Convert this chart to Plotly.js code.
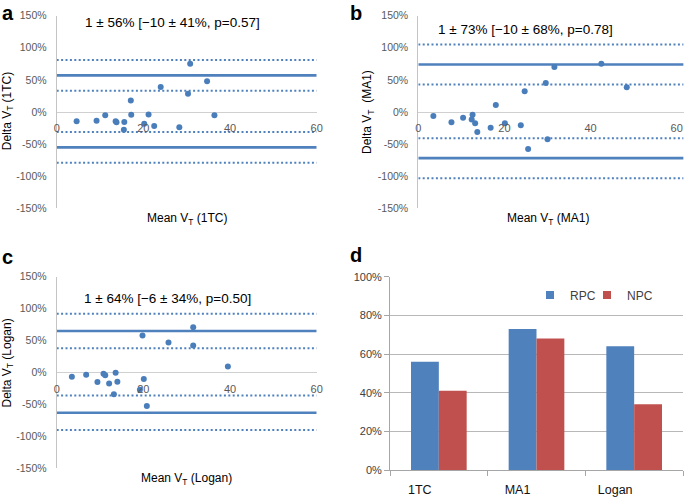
<!DOCTYPE html>
<html>
<head>
<meta charset="utf-8">
<script src="https://cdn.plot.ly/plotly-3.0.1.min.js"></script>
<style>html,body{margin:0;padding:0;background:#fff;}#chart{width:685px;height:497px;}</style>
</head>
<body>
<div id="chart"></div>
<script>
// ---- data ----
const yTickVals = [-150, -100, -50, 0, 50, 100, 150];
const yTickText = ['-150%', '-100%', '-50%', '0%', '50%', '100%', '150%'];
const xTickVals = [0, 20, 40, 60];

// panel a (1TC)
const aMean = [4.6, 9.2, 11.2, 13.6, 13.8, 15.6, 15.5, 17.1, 17.2, 20.2, 21.2, 22.5, 24.0, 28.3, 30.3, 30.8, 34.7, 36.4];
const aDelta = [-14.5, -13.5, -5.2, -14.5, -16, -15.6, -27.5, 18, -4.3, -18.2, -4, -22, 39, -23.9, 28.5, 75.2, 48, -5.2];
const aLoA = [57, -55];
const aCI = [81, 33, -31, -79];
const aStat = '1 ± 56% [−10 ± 41%, p=0.57]';

// panel b (MA1)
const bMean = [3.5, 7.7, 10.4, 12.4, 12.6, 13.2, 13.7, 16.8, 18.0, 20.1, 23.8, 24.7, 25.5, 29.6, 30.0, 31.6, 42.5, 48.4];
const bDelta = [-6.2, -16, -9, -11.6, -4.1, -17.6, -31, -24.6, 11, -17.6, -20.5, 32.5, -57.6, 45.1, -42.6, 70, 75.3, 38.4];
const bLoA = [74, -72];
const bCI = [105, 43, -41, -103];
const bStat = '1 ± 73% [−10 ± 68%, p=0.78]';

// panel c (Logan)
const cMean = [3.5, 6.8, 9.4, 10.8, 11.2, 12.1, 13.2, 13.6, 14.0, 19.2, 19.8, 20.1, 20.8, 25.8, 31.5, 31.5, 39.5];
const cDelta = [-6.8, -3.7, -14.7, -2.1, -4.4, -17.4, -34, -0.5, -14.5, -27, 58, -10.3, -52.6, 46.8, 71, 42.1, 9.5];
const cLoA = [65, -63];
const cCI = [92, 38, -36, -90];
const cStat = '1 ± 64% [−6 ± 34%, p=0.50]';

// panel d
const models = ['1TC', 'MA1', 'Logan'];
const rpc = [56, 73, 64];
const npc = [41, 68, 34];
const dTickVals = [0, 20, 40, 60, 80, 100];
const dTickText = ['0%', '20%', '40%', '60%', '80%', '100%'];

// ---- helpers ----
const W = 685, H = 497;
const px = v => v / W;
const py = v => 1 - v / H;
const BLUE = '#4F81BD', RED = '#C0504D';
const FONT = 'Liberation Sans, Arial, sans-serif';

const traces = [];
function panel(xa, ya, mean, delta, loa, ci, xEnd) {
  loa.forEach(v => traces.push({
    type: 'scatter', mode: 'lines', x: [0, xEnd], y: [v, v], xaxis: xa, yaxis: ya,
    line: {color: BLUE, width: 2.7}, showlegend: false, hoverinfo: 'skip'
  }));
  ci.forEach(v => traces.push({
    type: 'scatter', mode: 'lines', x: [0, xEnd], y: [v, v], xaxis: xa, yaxis: ya,
    line: {color: BLUE, width: 2, dash: '2px,2.4px'}, showlegend: false, hoverinfo: 'skip'
  }));
  traces.push({
    type: 'scatter', mode: 'markers', x: mean, y: delta, xaxis: xa, yaxis: ya,
    marker: {color: '#4A7EBB', size: 6}, showlegend: false
  });
}
panel('x', 'y', aMean, aDelta, aLoA, aCI, 60);
panel('x2', 'y2', bMean, bDelta, bLoA, bCI, 61.6);
panel('x3', 'y3', cMean, cDelta, cLoA, cCI, 60);

traces.push({type: 'bar', name: 'RPC', x: models, y: rpc, xaxis: 'x4', yaxis: 'y4',
  marker: {color: BLUE}, showlegend: false});
traces.push({type: 'bar', name: 'NPC', x: models, y: npc, xaxis: 'x4', yaxis: 'y4',
  marker: {color: RED}, showlegend: false});
// legend entries (one legend per entry so spacing can match)
traces.push({type: 'scatter', mode: 'markers', name: 'RPC', x: [null], y: [null], xaxis: 'x4', yaxis: 'y4',
  marker: {color: BLUE, symbol: 'square', size: 8}, legend: 'legend'});
traces.push({type: 'scatter', mode: 'markers', name: 'NPC', x: [null], y: [null], xaxis: 'x4', yaxis: 'y4',
  marker: {color: RED, symbol: 'square', size: 8}, legend: 'legend2'});

function yAx(dom, anchor) {
  return {
    domain: dom, anchor: anchor, range: [-150, 150], tickvals: yTickVals, ticktext: yTickText,
    showgrid: false, showline: true, linecolor: '#c4c4c4', linewidth: 1,
    zeroline: true, zerolinecolor: '#d0d0d0', zerolinewidth: 1,
    ticks: 'outside', ticklen: 7, tickcolor: 'rgba(0,0,0,0)',
    tickfont: {family: FONT, size: 10.5, color: '#595959'}, fixedrange: true
  };
}
function xAx(dom, ydom, range) {
  return {
    domain: dom, anchor: 'free', position: (ydom[0] + ydom[1]) / 2, range: range,
    tickvals: xTickVals, showgrid: false, showline: false, zeroline: false,
    ticks: 'outside', ticklen: 6, tickcolor: 'rgba(0,0,0,0)',
    tickfont: {family: FONT, size: 11, color: '#595959'}, fixedrange: true
  };
}

const yTop = [py(208.3), py(15.7)];
const yBot = [py(468.3), py(276.7)];
const xLeft = [px(56.7), px(316.7)];
const xRightB = [px(418.3), px(683.6)];

const ann = [];
function txt(x, y, text, size, opts) {
  ann.push(Object.assign({xref: 'paper', yref: 'paper', x: px(x), y: py(y), text: text, showarrow: false,
    xanchor: 'center', yanchor: 'middle', font: {family: FONT, size: size, color: '#000'}}, opts || {}));
}
txt(172, 22.7, aStat, 13.5);
txt(525, 29.3, bStat, 13.5);
txt(167, 298.3, cStat, 13.5);
txt(186.7, 218.5, 'Mean V<sub>T</sub> (1TC)', 12);
txt(548, 219, 'Mean V<sub>T</sub> (MA1)', 12);
txt(186.7, 478.5, 'Mean V<sub>T</sub> (Logan)', 12);
txt(7.5, 111.7, 'Delta V<sub>T</sub> (1TC)', 12, {textangle: -90});
txt(368, 112, 'Delta V<sub>T</sub>  (MA1)', 12, {textangle: -90});
txt(7.5, 363, 'Delta V<sub>T</sub> (Logan)', 12, {textangle: -90});
txt(7.5, 0, '<b>a</b>', 20, {yanchor: 'top'});
txt(356, 0, '<b>b</b>', 20, {yanchor: 'top'});
txt(7.5, 244, '<b>c</b>', 20, {yanchor: 'top'});
txt(356, 242, '<b>d</b>', 20, {yanchor: 'top'});

function leg(x) {
  return {
    orientation: 'h', x: px(x), y: py(295), xanchor: 'left', yanchor: 'middle',
    bgcolor: 'rgba(0,0,0,0)', font: {family: FONT, size: 12, color: '#404040'},
    itemwidth: 30
  };
}

const layout = {
  width: W, height: H, margin: {l: 0, r: 0, t: 0, b: 0},
  paper_bgcolor: '#fff', plot_bgcolor: 'rgba(0,0,0,0)',
  font: {family: FONT},
  xaxis: xAx(xLeft, yTop, [0, 60]),
  yaxis: yAx(yTop, 'x'),
  xaxis2: xAx(xRightB, yTop, [0, 61.6]),
  yaxis2: yAx(yTop, 'x2'),
  xaxis3: xAx(xLeft, yBot, [0, 60]),
  yaxis3: yAx(yBot, 'x3'),
  xaxis4: {
    domain: [px(390), px(683)], anchor: 'y4', type: 'category',
    showline: true, linecolor: '#a6a6a6', ticks: 'outside', tickson: 'boundaries', ticklen: 5,
    tickcolor: '#a6a6a6', ticklabelshift: -19, ticklabelstandoff: 8,
    tickfont: {family: FONT, size: 12.5, color: '#111'}, fixedrange: true
  },
  yaxis4: {
    domain: [py(470), py(276.7)], anchor: 'x4', range: [0, 100], tickvals: dTickVals, ticktext: dTickText,
    showgrid: true, gridcolor: '#b8b8b8', gridwidth: 1, showline: true, linecolor: '#a6a6a6',
    zeroline: false, ticks: 'outside', ticklen: 5, tickcolor: '#a6a6a6',
    tickfont: {family: FONT, size: 11, color: '#404040'}, fixedrange: true
  },
  barmode: 'group', bargap: 0.43, bargroupgap: 0,
  legend: leg(530),
  legend2: leg(587),
  annotations: ann,
  showlegend: true
};

Plotly.newPlot('chart', traces, layout, {displayModeBar: false, staticPlot: true});
</script>
</body>
</html>
